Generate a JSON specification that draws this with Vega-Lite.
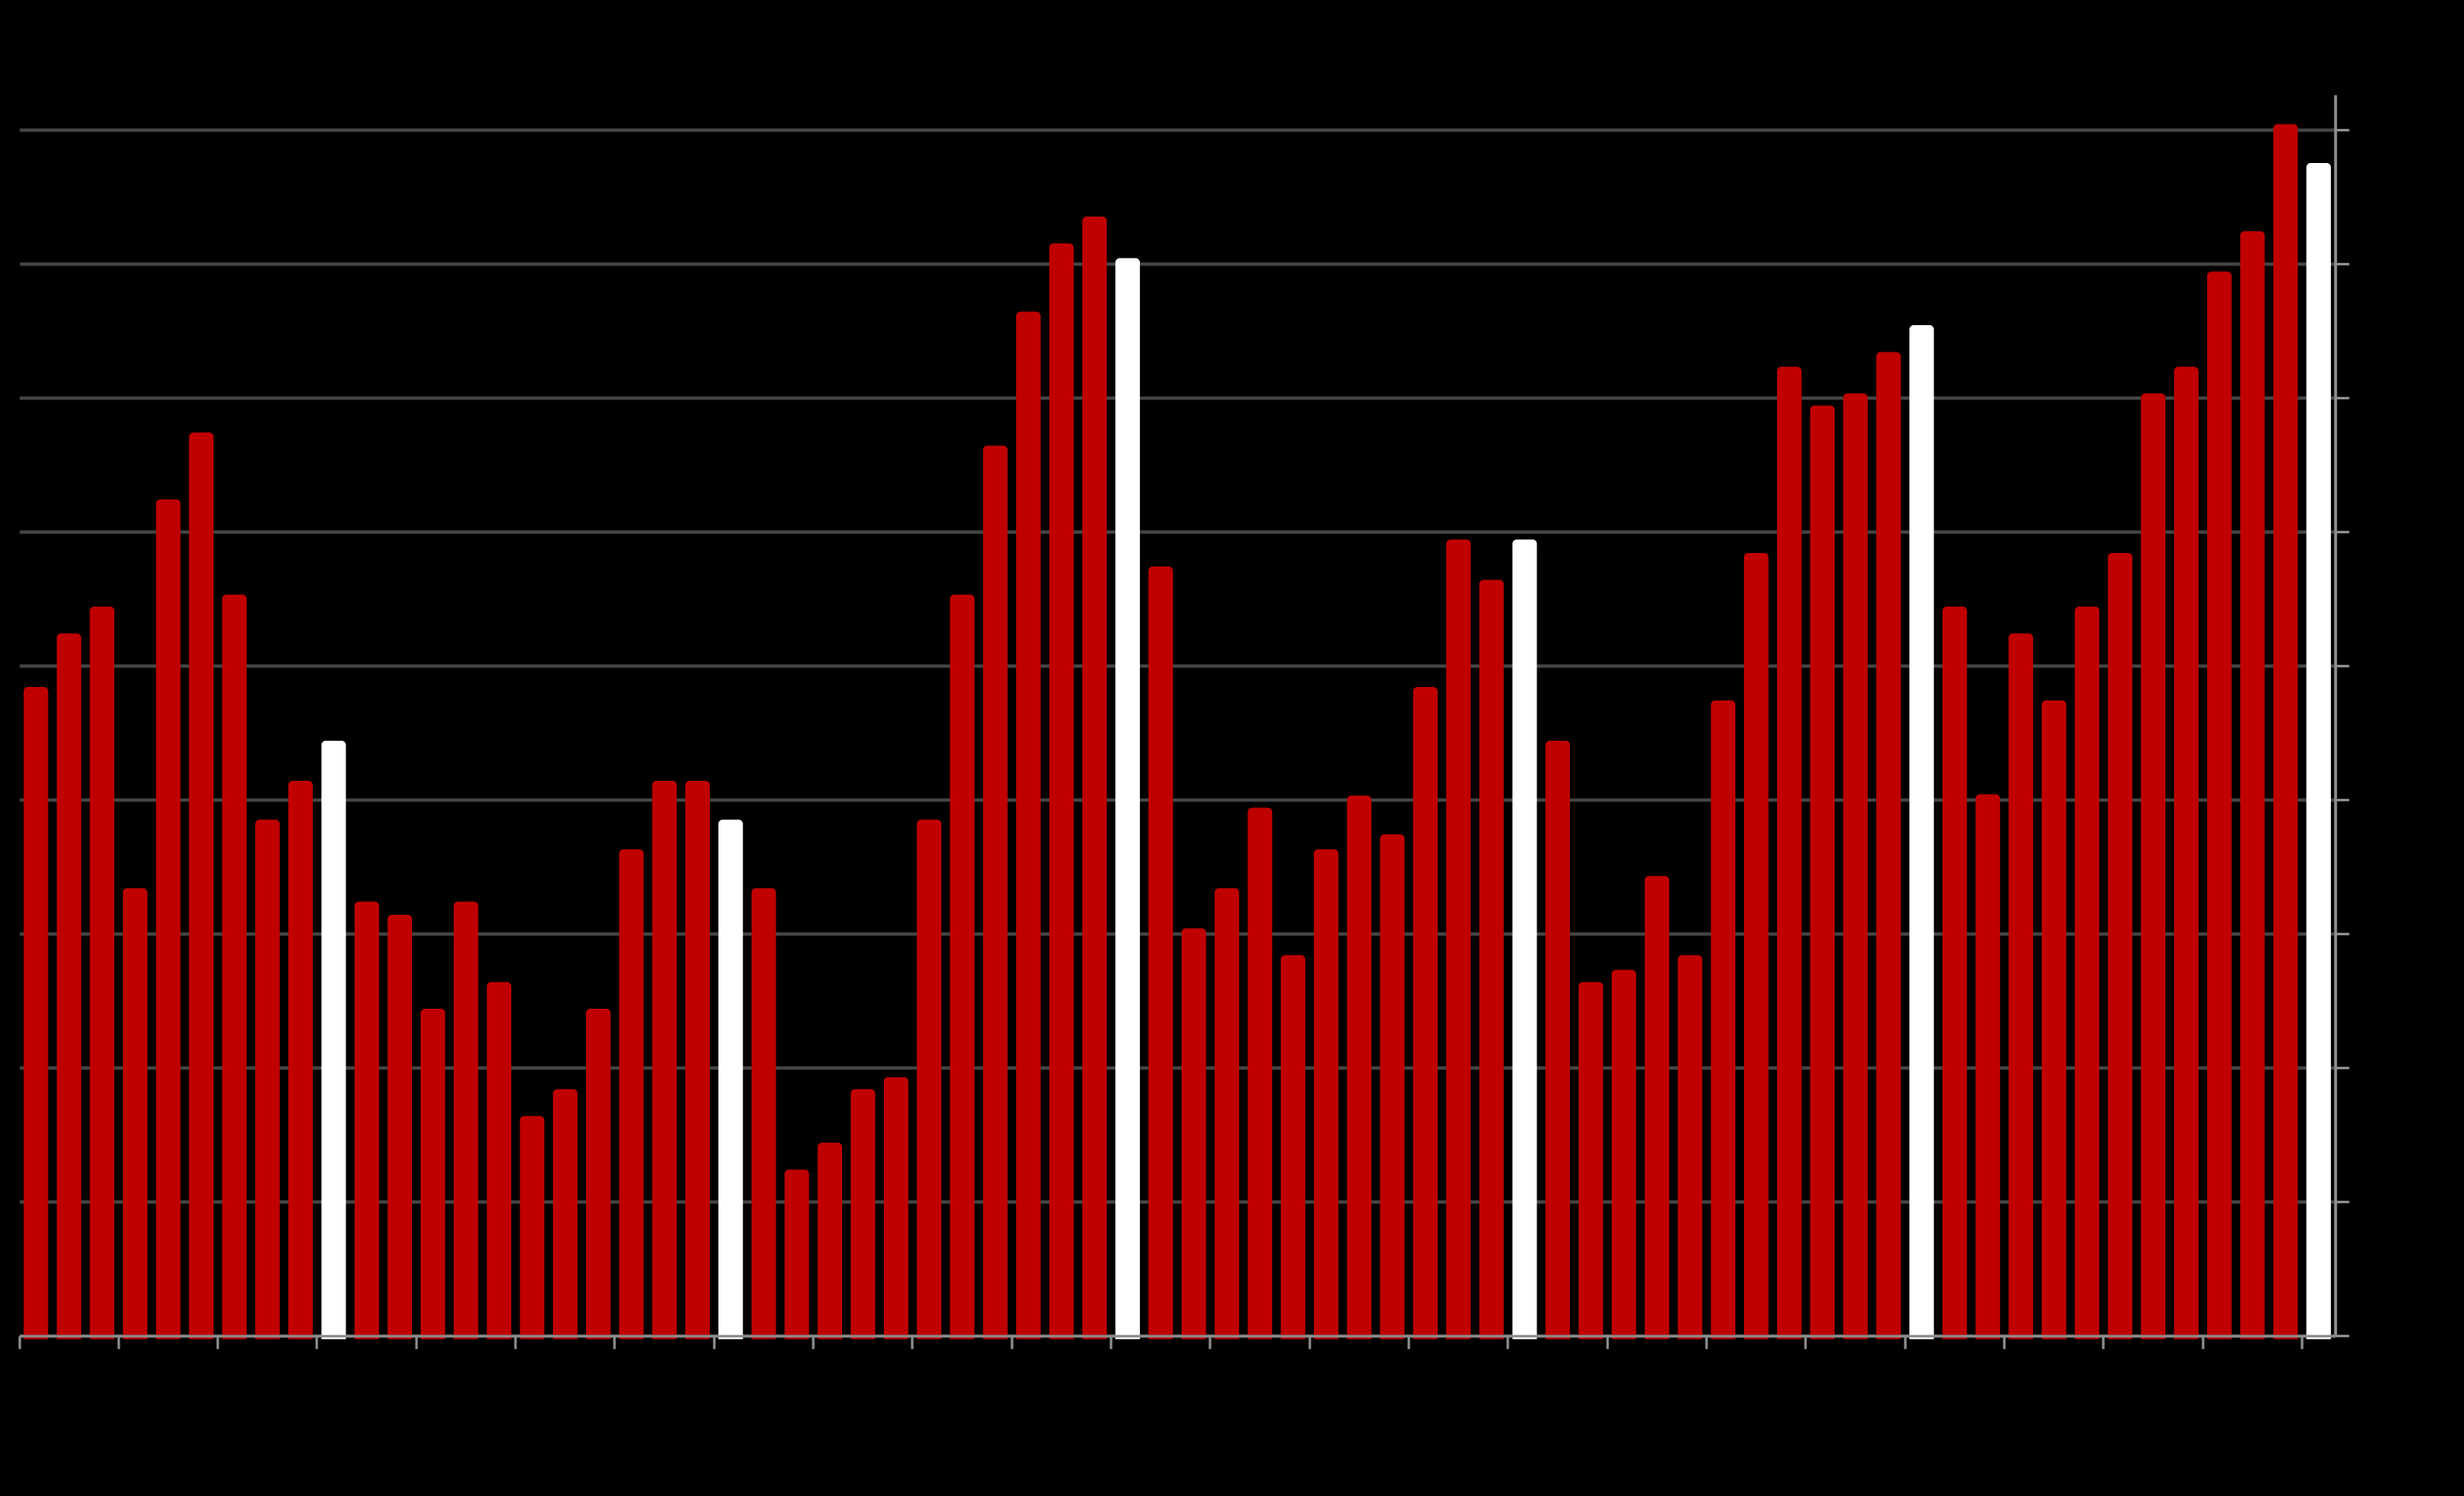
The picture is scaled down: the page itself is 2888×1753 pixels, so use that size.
{
  "$schema": "https://vega.github.io/schema/vega-lite/v6.json",
  "autosize": "none",
  "width": 2714.3,
  "height": 1454.3,
  "padding": {"left": 22.7, "top": 111, "right": 151, "bottom": 187.7},
  "background": "#000000",
  "config": {"view": {"stroke": null}},
  "data": {"values": [
    {"month": "2019-03", "value": 4.84, "kind": "other"},
    {"month": "2019-04", "value": 5.24, "kind": "other"},
    {"month": "2019-05", "value": 5.44, "kind": "other"},
    {"month": "2019-06", "value": 3.34, "kind": "other"},
    {"month": "2019-07", "value": 6.24, "kind": "other"},
    {"month": "2019-08", "value": 6.74, "kind": "other"},
    {"month": "2019-09", "value": 5.53, "kind": "other"},
    {"month": "2019-10", "value": 3.85, "kind": "other"},
    {"month": "2019-11", "value": 4.14, "kind": "other"},
    {"month": "2019-12", "value": 4.44, "kind": "December"},
    {"month": "2020-01", "value": 3.24, "kind": "other"},
    {"month": "2020-02", "value": 3.14, "kind": "other"},
    {"month": "2020-03", "value": 2.44, "kind": "other"},
    {"month": "2020-04", "value": 3.24, "kind": "other"},
    {"month": "2020-05", "value": 2.64, "kind": "other"},
    {"month": "2020-06", "value": 1.64, "kind": "other"},
    {"month": "2020-07", "value": 1.84, "kind": "other"},
    {"month": "2020-08", "value": 2.44, "kind": "other"},
    {"month": "2020-09", "value": 3.63, "kind": "other"},
    {"month": "2020-10", "value": 4.14, "kind": "other"},
    {"month": "2020-11", "value": 4.14, "kind": "other"},
    {"month": "2020-12", "value": 3.85, "kind": "December"},
    {"month": "2021-01", "value": 3.34, "kind": "other"},
    {"month": "2021-02", "value": 1.24, "kind": "other"},
    {"month": "2021-03", "value": 1.44, "kind": "other"},
    {"month": "2021-04", "value": 1.84, "kind": "other"},
    {"month": "2021-05", "value": 1.93, "kind": "other"},
    {"month": "2021-06", "value": 3.85, "kind": "other"},
    {"month": "2021-07", "value": 5.53, "kind": "other"},
    {"month": "2021-08", "value": 6.64, "kind": "other"},
    {"month": "2021-09", "value": 7.64, "kind": "other"},
    {"month": "2021-10", "value": 8.15, "kind": "other"},
    {"month": "2021-11", "value": 8.35, "kind": "other"},
    {"month": "2021-12", "value": 8.04, "kind": "December"},
    {"month": "2022-01", "value": 5.74, "kind": "other"},
    {"month": "2022-02", "value": 3.04, "kind": "other"},
    {"month": "2022-03", "value": 3.34, "kind": "other"},
    {"month": "2022-04", "value": 3.94, "kind": "other"},
    {"month": "2022-05", "value": 2.84, "kind": "other"},
    {"month": "2022-06", "value": 3.63, "kind": "other"},
    {"month": "2022-07", "value": 4.03, "kind": "other"},
    {"month": "2022-08", "value": 3.74, "kind": "other"},
    {"month": "2022-09", "value": 4.84, "kind": "other"},
    {"month": "2022-10", "value": 5.94, "kind": "other"},
    {"month": "2022-11", "value": 5.64, "kind": "other"},
    {"month": "2022-12", "value": 5.94, "kind": "December"},
    {"month": "2023-01", "value": 4.44, "kind": "other"},
    {"month": "2023-02", "value": 2.64, "kind": "other"},
    {"month": "2023-03", "value": 2.73, "kind": "other"},
    {"month": "2023-04", "value": 3.43, "kind": "other"},
    {"month": "2023-05", "value": 2.84, "kind": "other"},
    {"month": "2023-06", "value": 4.74, "kind": "other"},
    {"month": "2023-07", "value": 5.84, "kind": "other"},
    {"month": "2023-08", "value": 7.23, "kind": "other"},
    {"month": "2023-09", "value": 6.94, "kind": "other"},
    {"month": "2023-10", "value": 7.03, "kind": "other"},
    {"month": "2023-11", "value": 7.34, "kind": "other"},
    {"month": "2023-12", "value": 7.54, "kind": "December"},
    {"month": "2024-01", "value": 5.44, "kind": "other"},
    {"month": "2024-02", "value": 4.04, "kind": "other"},
    {"month": "2024-03", "value": 5.24, "kind": "other"},
    {"month": "2024-04", "value": 4.74, "kind": "other"},
    {"month": "2024-05", "value": 5.44, "kind": "other"},
    {"month": "2024-06", "value": 5.84, "kind": "other"},
    {"month": "2024-07", "value": 7.03, "kind": "other"},
    {"month": "2024-08", "value": 7.23, "kind": "other"},
    {"month": "2024-09", "value": 7.94, "kind": "other"},
    {"month": "2024-10", "value": 8.24, "kind": "other"},
    {"month": "2024-11", "value": 9.04, "kind": "other"},
    {"month": "2024-12", "value": 8.75, "kind": "December"}
  ]},
  "mark": {"type": "bar", "cornerRadiusTopLeft": 5, "cornerRadiusTopRight": 5, "width": {"band": 0.74}},
  "encoding": {
    "x": {
      "field": "month",
      "type": "ordinal",
      "sort": null,
      "scale": {"paddingInner": 0, "paddingOuter": 0},
      "axis": {
        "title": null,
        "labels": false,
        "grid": false,
        "bandPosition": 0,
        "values": ["2019-03","2019-06","2019-09","2019-12","2020-03","2020-06","2020-09","2020-12","2021-03","2021-06","2021-09","2021-12","2022-03","2022-06","2022-09","2022-12","2023-03","2023-06","2023-09","2023-12","2024-03","2024-06","2024-09","2024-12"],
        "domainColor": "#8c8c8c",
        "domainWidth": 3,
        "tickColor": "#8c8c8c",
        "tickWidth": 3,
        "tickSize": 15,
        "zindex": 1
      }
    },
    "y": {
      "field": "value",
      "type": "quantitative",
      "scale": {"domain": [0, 9.259], "nice": false, "zero": true},
      "axis": {
        "orient": "right",
        "title": null,
        "labels": false,
        "values": [0, 1, 2, 3, 4, 5, 6, 7, 8, 9],
        "grid": true,
        "gridColor": "#454545",
        "gridWidth": 4,
        "domainColor": "#8c8c8c",
        "domainWidth": 3.5,
        "tickColor": "#8c8c8c",
        "tickWidth": 3,
        "tickSize": 16,
        "zindex": 0
      }
    },
    "y2": {"datum": -0.025},
    "color": {
      "field": "kind",
      "type": "nominal",
      "scale": {"domain": ["other", "December"], "range": ["#C00000", "#FFFFFF"]},
      "legend": null
    }
  }
}
